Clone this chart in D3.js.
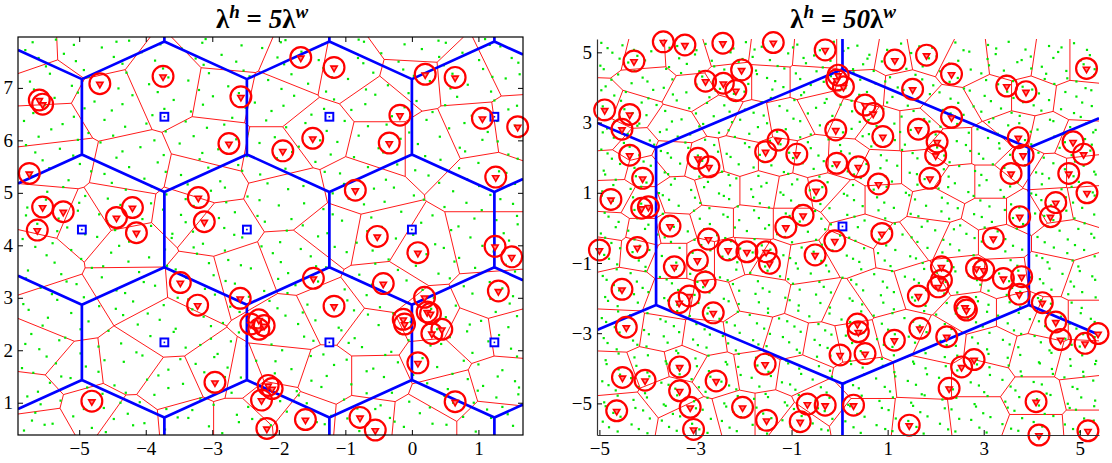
<!DOCTYPE html>
<html>
<head>
<meta charset="utf-8">
<script src="https://cdn.jsdelivr.net/npm/d3@7"></script>
<style>
  body { margin: 0; background: #fff; }
  svg text { font-family: "Liberation Serif", "Times New Roman", serif; }
</style>
</head>
<body>
<svg id="chart" width="1112" height="463"></svg>
<script>
// ---------- data ----------
const titleCoefs = ["5", "50"];

const xTicksLeft = [-5, -4, -3, -2, -1, 0, 1];
const xLabelsLeft = ["\u22125", "\u22124", "\u22123", "\u22122", "\u22121", "0", "1"];
const yTicksLeft = [1, 2, 3, 4, 5, 6, 7];
const yLabelsLeft = ["1", "2", "3", "4", "5", "6", "7"];
const xTicksRight = [-5, -3, -1, 1, 3, 5];
const xLabelsRight = ["\u22125", "\u22123", "\u22121", "1", "3", "5"];
const yTicksRight = [-5, -3, -1, 1, 3, 5];
const yLabelsRight = ["\u22125", "\u22123", "\u22121", "1", "3", "5"];

// macro base stations (hexagonal lattice)
const hexCentersLeft = [
  [-7.44, 0], [-4.96, 0], [-2.48, 0], [0, 0], [2.48, 0],
  [-6.2, 2.15], [-3.72, 2.15], [-1.24, 2.15], [1.24, 2.15], [3.72, 2.15],
  [-7.44, 4.3], [-4.96, 4.3], [-2.48, 4.3], [0, 4.3], [2.48, 4.3],
  [-6.2, 6.45], [-3.72, 6.45], [-1.24, 6.45], [1.24, 6.45], [3.72, 6.45],
  [-7.44, 8.6], [-4.96, 8.6], [-2.48, 8.6], [0, 8.6], [2.48, 8.6]
];
const hexCentersRight = [
  [-7.7, 0.04], [0.06, 0.04], [7.82, 0.04],
  [-11.58, 6.76], [-3.82, 6.76], [3.94, 6.76], [11.7, 6.76],
  [-11.58, -6.68], [-3.82, -6.68], [3.94, -6.68], [11.7, -6.68]
];

// WiFi access point sites (red tessellation)
const apSitesLeft = [
  [-5.77, 7.72], [-5.49, 7.08], [-4.89, 7.75], [-4.59, 6.7], [-5.44, 6.29], [-3.68, 7.02], [-2.78, 6.89],
  [-2.68, 7.78], [-2.93, 5.88], [-3.13, 5.24], [-2.98, 4.35], [-4.24, 5.43], [-5.34, 5.62], [-5.45, 4.62],
  [-4.39, 4.73], [-4.95, 4.45], [-3.38, 4.61], [-2.08, 6.77],
  [-1.73, 7.46], [-0.93, 7.34], [0.02, 7.88], [-0.03, 7.15], [0.83, 7.21], [1.48, 7.46], [0.93, 6.19],
  [1.58, 6.26], [-0.43, 6.77], [-0.43, 5.94], [-1.43, 6.13], [-2.08, 5.75], [-0.78, 5.11], [0.23, 5.94],
  [1.13, 5.24], [-1.83, 4.92],
  [-5.69, 3.78], [-4.2, 3.95], [-5.24, 2.7], [-4.19, 3.21], [-3.68, 2.45], [-3.18, 3.27], [-2.58, 3.4],
  [-2.9, 1.55], [-3.6, 1.3], [-3.38, 0.67], [-4.29, 1.69], [-5.04, 1.62], [-5.6, 2.0], [-5.74, 1.11],
  [-4.79, 0.92], [-5.64, 0.54], [-4.24, 0.61], [-2.58, 1.5], [-2.58, 0.67],
  [-0.5, 4.15], [0.12, 3.85], [1.13, 4.04], [-1.73, 3.66], [-0.38, 3.21], [-1.23, 2.7], [1.23, 2.96],
  [1.43, 2.38], [0.93, 2.32], [0.33, 1.81], [-0.55, 2.3], [0.23, 2.6], [-1.88, 2.45], [-1.28, 1.5],
  [-0.53, 1.5], [0.53, 1.18], [1.33, 1.37], [1.23, 0.61], [0.12, 0.61], [-0.68, 0.67], [-1.63, 0.73],
  [-1.98, 1.69], [-2.13, 1.05], [-1.15, 4.25]
];
const apSitesRight = [
  [-4.85, 5.02], [-4.08, 4.88], [-3.18, 4.92], [-2.35, 5.11], [-1.38, 5.02], [-0.54, 4.97], [-4.93, 3.52],
  [-4.36, 3.36], [-4.01, 4.21], [-3.04, 3.83], [-2.21, 4.21], [-1.45, 4.21], [-0.61, 4.21], [-4.82, 2.66],
  [-4.29, 2.31], [-3.39, 2.88], [-2.56, 3.26], [-1.8, 2.98], [-1.1, 3.07], [-0.34, 3.36], [-4.74, 1.78],
  [-4.08, 1.65], [-3.46, 2.03], [-2.83, 1.93], [-2.07, 2.03], [-1.31, 2.03], [-0.55, 1.95], [-4.7, 0.95],
  [-4.08, 0.7], [-3.39, 0.89], [-2.49, 1.08], [-1.66, 1.08], [-0.96, 0.99], [-0.27, 1.08], [-4.78, -0.06],
  [-4.08, -0.16], [-3.46, -0.06], [-2.62, 0.13], [-1.8, 0.13], [-0.96, 0.13],
  [0.42, 4.97], [1.12, 4.88], [1.81, 4.97], [2.57, 4.69], [3.61, 4.78], [4.45, 4.69], [5.14, 4.69],
  [0.49, 4.02], [1.39, 3.97], [2.3, 3.36], [3.2, 3.74], [3.96, 3.74], [5.0, 3.64], [0.22, 3.17],
  [0.91, 2.79], [1.6, 2.79], [2.37, 2.31], [3.13, 2.31], [3.68, 2.79], [4.31, 2.69], [4.93, 2.5],
  [0.08, 1.93], [0.84, 1.65], [1.74, 1.65], [2.5, 1.27], [3.13, 1.27], [3.75, 1.84], [4.38, 1.55],
  [5.07, 1.55], [0.15, 0.8], [0.91, 0.8], [2.02, 0.61], [3.13, 0.42], [3.82, 0.42], [4.45, 0.7],
  [5.14, 0.8], [0.49, -0.16], [1.88, -0.16],
  [-4.88, -0.54], [-4.22, -0.58], [-3.46, -0.82], [-2.9, -0.82], [-2.31, -0.82], [-1.86, -0.73],
  [-1.45, -0.92], [-0.69, -1.01], [-4.5, -1.77], [-3.46, -2.06], [-2.7, -2.16], [-1.66, -1.87],
  [-0.48, -2.06], [-4.57, -2.91], [-3.67, -3.01], [-2.83, -3.1], [-1.94, -3.01], [-1.1, -3.2],
  [-0.34, -3.3], [-4.64, -4.15], [-3.94, -3.96], [-3.25, -3.86], [-2.56, -4.15], [-1.73, -4.05],
  [-0.82, -4.15], [-4.5, -5.29], [-3.53, -4.72], [-3.04, -5.48], [-2.07, -5.29], [-1.45, -5.29],
  [-0.96, -5.57], [-0.34, -4.91],
  [0.22, -0.63], [1.19, -0.54], [2.44, -0.35], [3.34, -0.35], [4.65, -0.35], [0.84, -1.87], [1.67, -1.68],
  [2.57, -1.29], [3.41, -1.39], [4.38, -1.29], [5.14, -1.49], [0.08, -2.25], [2.78, -2.44], [3.75, -2.44],
  [4.38, -2.63], [5.14, -2.63], [0.29, -3.2], [1.26, -3.01], [2.09, -3.3], [3.13, -3.39], [4.1, -3.58],
  [5.07, -3.77], [0.49, -4.34], [1.81, -4.24], [2.85, -4.24], [4.1, -4.91], [5.21, -4.72], [0.49, -5.38],
  [1.74, -5.48], [2.85, -5.38], [4.1, -5.72], [5.21, -5.66]
];

// home base stations (circled triangles)
const homeLeft = [
  [-5.6, 6.77], [-5.55, 6.69], [-4.69, 7.08], [-3.74, 7.22], [-2.57, 6.83], [-2.75, 5.94], [-5.75, 5.37],
  [-5.55, 4.73], [-5.24, 4.64], [-5.63, 4.29], [-4.44, 4.53], [-4.2, 4.72], [-4.14, 4.24], [-3.21, 4.91],
  [-3.12, 4.45], [-1.67, 7.58], [-1.17, 7.39], [0.2, 7.26], [0.65, 7.2], [-0.18, 6.48], [1.06, 6.42],
  [1.59, 6.26], [-1.49, 6.04], [-1.94, 5.8], [-0.34, 5.95], [1.26, 5.3], [-0.85, 5.05], [-0.52, 4.17],
  [-3.48, 3.29], [-3.22, 2.86], [-2.58, 2.99], [-2.42, 2.5], [-2.3, 2.58], [-2.22, 2.47], [-2.3, 2.4],
  [-2.96, 1.39], [-4.81, 1.03], [-2.26, 1.05], [-2.16, 1.33], [-2.1, 1.27], [-2.18, 0.51],
  [0.09, 3.86], [1.25, 3.98], [1.5, 3.78], [-1.48, 3.37], [-0.43, 3.27], [1.3, 3.13], [-1.17, 2.84],
  [-0.13, 2.59], [-0.11, 2.5], [0.19, 3.01], [0.23, 2.73], [0.28, 2.7], [0.3, 2.32], [0.45, 2.4],
  [0.09, 1.76], [0.65, 1.02], [-0.78, 0.72], [-0.55, 0.48], [-1.6, 0.68]
];
const homeRight = [
  [-4.28, 4.75], [-3.67, 5.3], [-3.22, 5.21], [-2.43, 5.26], [-1.38, 5.28], [-0.3, 5.07], [-4.89, 3.36],
  [-4.37, 3.23], [-4.53, 2.81], [-2.79, 4.18], [-2.42, 4.12], [-2.16, 3.91], [-2.04, 4.5], [-4.37, 2.07],
  [-4.1, 1.41], [-4.76, 0.81], [-4.12, 0.56], [-3.98, 0.6], [-2.95, 1.98], [-2.72, 1.74], [-1.54, 2.17],
  [-1.28, 2.5], [-0.89, 2.1], [-0.49, 1.06], [-0.76, 0.36], [-1.12, 0.02], [-3.53, 0.05],
  [-0.06, 4.21], [0.08, 4.02], [-0.03, 4.35], [-0.08, 2.79], [-0.06, 1.84],
  [1.15, 4.78], [1.81, 4.92], [2.33, 4.38], [1.52, 3.95], [0.53, 3.5], [0.7, 3.26], [0.9, 2.6],
  [1.64, 2.81], [2.03, 2.45], [2.0, 2.07], [1.88, 1.41], [2.33, 3.15], [3.48, 4.04], [3.88, 3.88],
  [5.14, 4.54], [3.72, 2.57], [3.82, 2.07], [3.57, 1.55], [4.86, 2.45], [5.08, 2.1], [4.77, 1.55],
  [5.15, 1.0], [4.5, 0.72], [4.39, 0.32], [3.75, 0.32], [0.39, 1.74], [0.81, 1.25], [0.88, -0.16],
  [3.2, -0.3],
  [-2.73, -0.32], [-2.32, -0.63], [-1.93, -0.68], [-1.53, -0.68], [-1.46, -1.01], [-0.51, -0.77],
  [-0.1, -0.37], [-4.21, -0.56], [-5.0, -0.63], [-3.44, -1.11], [-2.96, -0.92], [-2.8, -1.54],
  [-3.13, -1.94], [-3.34, -2.13], [-2.63, -2.42], [-4.53, -1.75], [-4.44, -2.83], [-3.33, -3.96],
  [-4.52, -4.26], [-4.05, -4.34], [-3.33, -4.64], [-2.57, -4.36], [-3.11, -5.11], [-4.64, -5.21],
  [-3.04, -5.74], [-2.02, -5.11], [-1.55, -3.88], [-1.52, -5.48], [-0.82, -5.52], [-0.67, -5.02],
  [-0.3, -5.05],
  [2.12, -1.11], [2.12, -1.49], [2.05, -1.68], [2.85, -1.15], [3.0, -1.2], [3.41, -1.44], [3.79, -1.39],
  [3.74, -1.89], [1.64, -1.94], [2.61, -2.26], [2.64, -2.34], [4.22, -2.13], [4.5, -2.68], [4.6, -3.18],
  [5.11, -3.29], [5.38, -3.01], [1.67, -2.86], [2.23, -3.1], [1.14, -3.2], [0.37, -2.74], [0.39, -2.96],
  [0.53, -3.58], [0.01, -3.62], [2.54, -3.96], [2.8, -3.75], [2.28, -4.57], [0.29, -5.05], [1.45, -5.62],
  [4.09, -4.95], [4.15, -5.9], [5.17, -5.78]
];

// users (green points), "x,y" pairs
const usersLeftText = `
-5.83,0.47 -5.52,0.58 -4.81,0.52 -4.60,0.44 -4.02,0.61 -3.71,0.49 -3.05,0.55 -2.85,0.42 -2.12,0.57 -1.66,0.50 -1.43,0.63 -0.79,0.46 -0.12,0.54 0.31,0.60 0.96,0.45 1.52,0.56
-5.66,0.81 -5.09,0.74 -4.93,0.88 -4.27,0.79 -3.52,0.72 -3.30,0.86 -2.63,0.77 -2.40,0.69 -1.88,0.83 -1.21,0.75 -0.55,0.88 -0.33,0.71 0.12,0.80 0.77,0.73 1.13,0.87 1.44,0.78
-5.78,1.12 -5.28,1.04 -4.65,1.17 -4.09,1.01 -3.87,1.15 -3.18,1.08 -2.71,1.19 -1.98,1.03 -1.70,1.14 -1.02,1.06 -0.68,1.18 -0.04,1.02 0.49,1.13 0.62,1.00 1.27,1.10 1.60,1.16
-5.44,1.38 -5.13,1.47 -4.47,1.33 -3.98,1.44 -3.44,1.36 -2.57,1.48 -2.31,1.31 -1.51,1.42 -0.91,1.35 -0.42,1.49 0.23,1.37 0.84,1.45 1.07,1.32 1.55,1.41
-5.86,1.66 -5.35,1.75 -4.90,1.69 -4.33,1.78 -3.66,1.63 -3.25,1.74 -2.77,1.67 -2.05,1.79 -1.81,1.64 -1.17,1.72 -0.58,1.65 -0.21,1.77 0.38,1.68 1.00,1.73 1.36,1.62
-5.60,2.02 -4.98,1.94 -4.71,2.07 -4.14,1.96 -3.40,2.05 -2.92,1.93 -2.48,2.08 -1.95,2.00 -1.33,1.92 -0.75,2.06 -0.31,1.97 0.28,2.09 0.91,1.95 1.49,2.03
-5.72,2.31 -5.21,2.24 -4.56,2.37 -3.93,2.27 -3.58,2.35 -3.02,2.22 -2.60,2.34 -1.62,2.26 -1.06,2.38 -0.86,2.23 -0.18,2.32 0.57,2.25 0.83,2.36 1.31,2.29
-5.47,2.62 -4.86,2.55 -4.34,2.67 -3.79,2.58 -3.13,2.64 -2.84,2.52 -1.90,2.66 -1.45,2.57 -0.66,2.68 -0.02,2.54 0.51,2.63 1.04,2.56 1.58,2.65
-5.84,2.88 -5.33,2.96 -4.70,2.84 -4.19,2.93 -3.73,2.86 -3.36,2.97 -2.73,2.83 -2.14,2.94 -1.57,2.87 -0.97,2.95 -0.48,2.82 0.05,2.91 0.66,2.85 1.18,2.98 1.47,2.89
-5.58,3.19 -5.04,3.26 -4.44,3.14 -3.86,3.23 -3.11,3.17 -2.66,3.27 -2.22,3.13 -1.75,3.24 -1.01,3.16 -0.60,3.25 0.16,3.15 0.78,3.22 1.36,3.18
-5.77,3.52 -5.27,3.45 -4.81,3.57 -4.10,3.49 -3.55,3.54 -2.98,3.43 -2.42,3.56 -1.86,3.47 -1.29,3.58 -0.79,3.44 -0.21,3.53 0.40,3.46 0.95,3.57 1.55,3.50
-5.49,3.81 -4.97,3.74 -4.52,3.86 -3.95,3.77 -3.23,3.84 -2.76,3.72 -2.09,3.85 -1.52,3.79 -0.98,3.87 -0.35,3.73 0.22,3.83 0.71,3.76 1.23,3.88
-5.85,4.12 -5.40,4.04 -4.73,4.16 -4.25,4.07 -3.61,4.14 -3.14,4.03 -2.55,4.15 -1.98,4.06 -1.41,4.17 -0.83,4.05 -0.24,4.13 0.35,4.02 0.88,4.15 1.46,4.09
-5.63,4.41 -5.18,4.34 -4.58,4.46 -3.92,4.37 -3.40,4.44 -2.82,4.33 -2.21,4.45 -1.64,4.38 -1.05,4.47 -0.45,4.35 0.14,4.43 0.70,4.36 1.27,4.48 1.59,4.40
-5.78,4.72 -5.02,4.66 -4.38,4.77 -3.74,4.68 -3.28,4.75 -2.66,4.63 -2.00,4.76 -1.33,4.69 -0.72,4.78 -0.16,4.64 0.49,4.73 1.05,4.67 1.52,4.79
-5.48,5.02 -4.91,4.94 -4.30,5.06 -3.69,4.97 -3.02,5.04 -2.47,4.93 -1.86,5.07 -1.19,4.99 -0.57,5.08 0.03,4.95 0.62,5.03 1.18,4.96
-5.71,5.31 -5.16,5.24 -4.62,5.36 -4.02,5.27 -3.47,5.34 -2.88,5.22 -2.28,5.35 -1.69,5.28 -1.08,5.37 -0.39,5.25 0.25,5.33 0.83,5.26 1.42,5.38
-5.55,5.62 -4.99,5.55 -4.44,5.67 -3.82,5.58 -3.19,5.64 -2.61,5.53 -2.03,5.66 -1.45,5.59 -0.87,5.68 -0.22,5.54 0.43,5.63 1.00,5.57 1.59,5.65
-5.80,5.91 -5.29,5.84 -4.68,5.96 -4.08,5.87 -3.49,5.94 -2.91,5.83 -2.29,5.95 -1.70,5.88 -1.12,5.97 -0.50,5.85 0.09,5.93 0.72,5.86 1.29,5.98
-5.42,6.21 -4.86,6.14 -4.31,6.26 -3.70,6.17 -3.08,6.24 -2.47,6.13 -1.89,6.25 -1.28,6.18 -0.66,6.27 -0.04,6.15 0.56,6.23 1.14,6.16 1.55,6.28
-5.69,6.52 -5.08,6.45 -4.51,6.57 -3.90,6.48 -3.32,6.55 -2.70,6.43 -2.11,6.56 -1.51,6.49 -0.91,6.58 -0.30,6.46 0.31,6.54 0.90,6.47 1.45,6.59
-5.37,6.81 -4.77,6.74 -4.20,6.86 -3.58,6.77 -2.99,6.84 -2.36,6.72 -1.77,6.85 -1.17,6.78 -0.55,6.87 0.07,6.75 0.68,6.83 1.24,6.76
-5.74,7.12 -5.11,7.04 -4.55,7.16 -3.95,7.07 -3.36,7.14 -2.76,7.03 -2.16,7.15 -1.56,7.08 -0.96,7.17 -0.36,7.05 0.27,7.13 0.84,7.06 1.41,7.18
-5.50,7.41 -4.93,7.34 -4.35,7.46 -3.74,7.37 -3.13,7.44 -2.53,7.33 -1.92,7.45 -1.33,7.38 -0.73,7.47 -0.13,7.35 0.48,7.43 1.07,7.36 1.60,7.48
-5.81,7.72 -5.23,7.65 -4.66,7.77 -4.06,7.68 -3.46,7.75 -2.86,7.63 -2.25,7.76 -1.66,7.69 -1.06,7.78 -0.46,7.66 0.15,7.74 0.76,7.67 1.33,7.79
-5.35,7.92 -4.25,7.90 -3.10,7.93 -1.90,7.91 -0.80,7.92 0.40,7.90 1.10,7.93
-5.71,0.66 -5.40,0.60 -4.48,0.69 -4.19,0.57 -3.36,0.71 -2.60,0.63 -2.27,0.68 -1.31,0.59 -0.97,0.70 -0.26,0.64 0.52,0.58 1.19,0.71
-5.58,0.97 -4.63,0.90 -4.38,1.00 -3.69,0.88 -2.98,0.96 -2.46,0.92 -1.58,0.99 -0.82,0.89 -0.47,0.95 0.27,0.91 0.93,1.00 1.36,0.92
-5.62,1.21 -4.88,1.29 -4.30,1.19 -3.66,1.28 -3.01,1.20 -2.15,1.27 -1.73,1.22 -1.36,1.30 -0.30,1.19 0.54,1.26 0.99,1.23 1.61,1.29
-5.69,1.57 -5.27,1.50 -4.71,1.59 -3.81,1.52 -3.12,1.58 -2.81,1.49 -2.06,1.56 -1.28,1.51 -0.68,1.60 0.02,1.53 0.61,1.55 1.29,1.50
-5.49,1.88 -4.62,1.81 -4.05,1.90 -3.48,1.83 -2.97,1.87 -2.34,1.80 -1.52,1.89 -0.98,1.82 -0.40,1.91 0.16,1.85 0.78,1.80 1.58,1.88
-5.81,2.12 -5.30,2.19 -4.37,2.13 -3.76,2.20 -3.18,2.10 -2.72,2.17 -2.11,2.11 -1.48,2.18 -0.95,2.14 -0.05,2.19 0.44,2.12 1.15,2.17
-5.55,2.47 -4.98,2.40 -4.12,2.49 -3.55,2.41 -3.02,2.46 -2.35,2.42 -1.71,2.50 -1.10,2.43 -0.50,2.48 0.38,2.40 0.87,2.49 1.45,2.44
-5.76,2.77 -5.12,2.71 -4.45,2.79 -3.97,2.70 -3.30,2.78 -2.59,2.73 -2.02,2.80 -1.64,2.72 -0.87,2.76 -0.28,2.70 0.29,2.79 1.26,2.73
-5.41,3.07 -4.93,3.01 -4.31,3.09 -3.52,3.00 -2.96,3.06 -2.45,3.02 -1.87,3.09 -1.24,3.01 -0.68,3.05 0.33,3.00 0.91,3.08 1.52,3.03
-5.80,3.37 -5.19,3.31 -4.66,3.39 -4.03,3.30 -3.39,3.38 -2.80,3.32 -2.01,3.36 -1.41,3.31 -0.90,3.39 -0.08,3.33 0.57,3.37 1.17,3.30
-5.37,3.67 -4.64,3.60 -4.26,3.69 -3.68,3.61 -3.05,3.66 -2.57,3.62 -1.97,3.68 -1.44,3.60 -0.55,3.65 0.06,3.61 0.64,3.69 1.41,3.63
-5.66,3.97 -5.12,3.91 -4.40,3.99 -3.71,3.92 -3.28,3.96 -2.81,3.90 -2.26,3.98 -1.67,3.93 -1.16,3.97 -0.59,3.90 0.48,3.95 1.06,3.99
-5.33,4.27 -4.91,4.21 -4.46,4.29 -3.60,4.22 -3.29,4.26 -2.67,4.20 -1.88,4.28 -1.27,4.23 -0.67,4.27 0.02,4.20 0.59,4.29 1.38,4.23
-5.80,4.57 -5.31,4.51 -4.70,4.59 -4.05,4.50 -3.47,4.58 -2.90,4.52 -2.32,4.56 -1.81,4.50 -1.19,4.59 -0.61,4.53 0.31,4.57 0.94,4.51 1.58,4.56
-5.50,4.87 -5.00,4.81 -4.57,4.89 -3.92,4.80 -3.40,4.88 -2.79,4.82 -2.29,4.86 -1.62,4.80 -0.95,4.89 -0.41,4.83 0.18,4.87 0.82,4.81 1.33,4.88
-5.77,5.17 -5.24,5.11 -4.51,5.19 -3.91,5.12 -3.37,5.16 -2.81,5.10 -2.17,5.18 -1.63,5.13 -1.02,5.17 -0.27,5.10 0.41,5.19 1.01,5.13 1.55,5.17
-5.45,5.47 -4.82,5.41 -4.25,5.49 -3.70,5.40 -3.06,5.48 -2.55,5.42 -1.90,5.46 -1.31,5.40 -0.66,5.49 0.05,5.43 0.71,5.47 1.31,5.41
-5.66,5.77 -5.09,5.71 -4.35,5.79 -3.73,5.72 -3.15,5.76 -2.48,5.70 -1.80,5.78 -1.22,5.73 -0.43,5.77 0.20,5.70 0.80,5.79 1.45,5.73
-5.61,6.07 -5.02,6.01 -4.49,6.09 -3.87,6.00 -3.28,6.08 -2.64,6.02 -2.06,6.06 -1.38,6.00 -0.80,6.09 -0.17,6.03 0.42,6.07 1.06,6.01 1.62,6.06
-5.83,6.37 -5.25,6.31 -4.62,6.39 -3.99,6.32 -3.40,6.36 -2.82,6.30 -2.19,6.38 -1.60,6.33 -1.01,6.37 -0.38,6.30 0.22,6.39 0.79,6.33 1.28,6.37
-5.52,6.67 -4.92,6.61 -4.35,6.69 -3.72,6.60 -3.14,6.68 -2.50,6.62 -1.93,6.66 -1.32,6.60 -0.70,6.69 -0.11,6.63 0.50,6.67 1.10,6.61 1.58,6.66
-5.68,6.97 -5.02,6.91 -4.41,6.99 -3.82,6.92 -3.20,6.96 -2.60,6.90 -1.96,6.98 -1.29,6.93 -0.69,6.97 -0.05,6.90 0.58,6.99 1.19,6.93
-5.44,7.27 -4.86,7.21 -4.29,7.29 -3.66,7.20 -3.05,7.28 -2.44,7.22 -1.81,7.26 -1.20,7.20 -0.58,7.29 0.03,7.23 0.61,7.27 1.21,7.21 1.62,7.26
-5.61,7.57 -5.05,7.51 -4.48,7.59 -3.86,7.52 -3.25,7.56 -2.64,7.50 -2.02,7.58 -1.40,7.53 -0.81,7.57 -0.20,7.50 0.41,7.59 1.01,7.53 1.50,7.57
-5.70,7.87 -5.08,7.82 -4.44,7.88 -3.78,7.83 -3.15,7.86 -2.56,7.81 -1.97,7.87 -1.35,7.82 -0.72,7.88 -0.11,7.83 0.51,7.86 1.17,7.82
`;
const usersRightText = `
-4.96,5.27 -4.52,5.20 -3.71,5.30 -3.38,5.18 -2.79,5.24 -1.95,5.29 -1.62,5.16 -0.88,5.22 -0.12,5.30 0.37,5.19 1.28,5.25 1.66,5.17 2.41,5.28 3.09,5.21 3.52,5.30 4.36,5.18 4.88,5.26
-4.73,4.99 -4.21,4.90 -3.92,5.03 -3.01,4.94 -2.27,5.00 -1.81,4.87 -1.07,4.97 -0.53,4.91 0.08,5.04 0.62,4.93 1.49,4.98 2.02,4.89 2.70,5.02 3.25,4.95 3.98,4.88 4.55,5.01 5.21,4.92
-4.98,4.62 -4.40,4.71 -3.55,4.58 -3.18,4.67 -2.61,4.60 -2.10,4.73 -1.29,4.61 -0.70,4.69 -0.35,4.57 0.49,4.66 0.88,4.74 1.73,4.60 2.28,4.68 3.11,4.63 3.70,4.72 4.21,4.59 5.08,4.66
-4.61,4.37 -4.10,4.28 -3.30,4.41 -2.86,4.31 -1.72,4.38 -1.51,4.27 -0.91,4.40 -0.18,4.32 0.29,4.43 1.05,4.29 1.58,4.36 2.46,4.27 2.95,4.40 3.47,4.33 4.30,4.39 4.74,4.26 5.30,4.35
-4.87,4.03 -4.33,4.12 -3.66,3.99 -2.98,4.08 -2.49,3.96 -1.90,4.10 -1.17,4.01 -0.60,4.07 0.12,3.98 0.75,4.11 1.21,4.00 1.95,4.06 2.59,3.97 3.30,4.09 3.81,4.02 4.47,4.10 5.12,3.98
-4.69,3.77 -3.98,3.69 -3.47,3.80 -2.71,3.72 -2.20,3.82 -1.43,3.70 -0.80,3.78 -0.27,3.67 0.41,3.79 1.10,3.73 1.88,3.81 2.31,3.68 3.02,3.76 3.62,3.70 4.15,3.83 4.93,3.74
-4.93,3.46 -4.48,3.38 -3.81,3.50 -3.13,3.41 -2.40,3.49 -1.97,3.37 -1.25,3.47 -0.49,3.42 0.02,3.51 0.91,3.39 1.42,3.48 2.15,3.36 2.79,3.46 3.36,3.40 4.04,3.49 4.61,3.38 5.25,3.47
-4.58,3.14 -4.02,3.21 -3.29,3.09 -2.62,3.18 -2.07,3.08 -1.58,3.20 -0.96,3.11 -0.15,3.19 0.60,3.07 1.29,3.17 1.76,3.10 2.58,3.22 3.20,3.12 3.75,3.19 4.38,3.08 5.02,3.16
-4.84,2.83 -4.21,2.91 -3.60,2.80 -2.92,2.89 -2.31,2.78 -1.70,2.87 -1.12,2.81 -0.41,2.92 0.25,2.82 0.77,2.90 1.48,2.79 2.10,2.88 2.87,2.81 3.51,2.92 4.12,2.80 4.80,2.87 5.33,2.79
-4.70,2.57 -3.95,2.49 -3.37,2.60 -2.80,2.51 -2.18,2.59 -1.45,2.48 -0.82,2.58 -0.23,2.52 0.48,2.61 1.15,2.50 1.81,2.57 2.44,2.47 3.09,2.56 3.86,2.50 4.47,2.60 5.11,2.53
-4.96,2.23 -4.37,2.31 -3.72,2.19 -3.15,2.28 -2.53,2.17 -1.88,2.30 -1.30,2.21 -0.60,2.27 0.03,2.18 0.66,2.32 1.30,2.22 2.03,2.29 2.72,2.19 3.33,2.26 3.93,2.16 4.58,2.28 5.22,2.20
-4.74,1.97 -4.08,1.89 -3.51,2.00 -2.86,1.91 -2.27,2.02 -1.60,1.88 -0.97,1.99 -0.33,1.90 0.34,2.01 0.98,1.92 1.62,1.98 2.29,1.87 2.99,1.97 3.64,1.91 4.25,2.00 4.90,1.89
-4.91,1.63 -4.27,1.71 -3.64,1.58 -3.02,1.69 -2.45,1.60 -1.79,1.72 -1.16,1.59 -0.54,1.68 0.17,1.61 0.85,1.70 1.46,1.57 2.17,1.67 2.82,1.62 3.43,1.71 4.09,1.58 4.69,1.67 5.30,1.60
-4.66,1.37 -4.02,1.29 -3.43,1.40 -2.74,1.31 -2.15,1.41 -1.52,1.28 -0.88,1.38 -0.25,1.30 0.44,1.42 1.09,1.32 1.77,1.39 2.40,1.27 3.06,1.36 3.71,1.30 4.36,1.41 4.98,1.31
-4.94,1.04 -4.35,1.11 -3.76,0.99 -3.09,1.08 -2.51,0.98 -1.84,1.10 -1.23,1.01 -0.62,1.07 0.09,0.97 0.71,1.09 1.38,1.00 2.06,1.12 2.68,1.02 3.35,1.08 3.99,0.98 4.62,1.10 5.27,1.01
-4.72,0.77 -4.13,0.69 -3.55,0.80 -2.90,0.71 -2.30,0.82 -1.66,0.70 -1.01,0.78 -0.40,0.68 0.30,0.79 0.93,0.72 1.57,0.81 2.25,0.70 2.93,0.78 3.57,0.67 4.20,0.79 4.86,0.72
-4.89,0.43 -4.27,0.51 -3.68,0.40 -3.03,0.49 -2.42,0.38 -1.78,0.50 -1.12,0.41 -0.51,0.48 0.16,0.37 0.81,0.50 1.48,0.40 2.12,0.47 2.80,0.39 3.44,0.51 4.07,0.41 4.72,0.49 5.30,0.38
-4.60,0.17 -3.98,0.09 -3.36,0.20 -2.70,0.11 -2.09,0.22 -1.47,0.08 -0.83,0.18 -0.18,0.10 0.52,0.21 1.15,0.12 1.83,0.19 2.51,0.07 3.17,0.17 3.82,0.11 4.45,0.22 5.10,0.13
-4.97,-0.16 -4.40,-0.08 -3.79,-0.19 -3.16,-0.10 -2.55,-0.21 -1.93,-0.09 -1.30,-0.18 -0.66,-0.11 0.01,-0.22 0.67,-0.09 1.31,-0.19 1.99,-0.07 2.64,-0.17 3.29,-0.10 3.95,-0.20 4.58,-0.08 5.24,-0.17
-4.75,-0.43 -4.16,-0.51 -3.51,-0.40 -2.88,-0.49 -2.26,-0.38 -1.62,-0.50 -0.99,-0.41 -0.37,-0.48 0.33,-0.37 0.97,-0.50 1.62,-0.40 2.30,-0.47 2.96,-0.39 3.61,-0.51 4.27,-0.41 4.90,-0.49
-4.90,-0.77 -4.31,-0.69 -3.70,-0.80 -3.06,-0.71 -2.44,-0.82 -1.81,-0.70 -1.17,-0.78 -0.54,-0.68 0.15,-0.79 0.80,-0.72 1.47,-0.81 2.14,-0.70 2.79,-0.78 3.45,-0.67 4.10,-0.79 4.74,-0.72 5.31,-0.81
-4.63,-1.04 -4.04,-1.11 -3.40,-0.99 -2.77,-1.08 -2.13,-0.98 -1.55,-1.10 -0.91,-1.01 -0.28,-1.07 0.41,-0.97 1.06,-1.09 1.73,-1.00 2.37,-1.12 3.04,-1.02 3.70,-1.08 4.33,-0.98 4.97,-1.10
-4.93,-1.37 -4.35,-1.29 -3.74,-1.40 -3.11,-1.31 -2.49,-1.41 -1.86,-1.28 -1.24,-1.38 -0.60,-1.30 0.06,-1.42 0.72,-1.32 1.36,-1.39 2.02,-1.27 2.69,-1.36 3.32,-1.30 3.98,-1.41 4.64,-1.31 5.26,-1.38
-4.70,-1.63 -4.10,-1.71 -3.49,-1.58 -2.84,-1.69 -2.22,-1.60 -1.60,-1.72 -0.97,-1.59 -0.33,-1.68 0.35,-1.61 0.99,-1.70 1.65,-1.57 2.28,-1.67 2.93,-1.62 3.59,-1.71 4.24,-1.58 4.88,-1.67
-4.88,-1.97 -4.28,-1.89 -3.65,-2.00 -3.02,-1.91 -2.41,-2.02 -1.75,-1.88 -1.13,-1.99 -0.49,-1.90 0.21,-2.01 0.86,-1.92 1.51,-1.98 2.18,-1.87 2.84,-1.97 3.48,-1.91 4.13,-2.00 4.76,-1.89 5.33,-1.98
-4.62,-2.23 -4.01,-2.31 -3.38,-2.19 -2.73,-2.28 -2.10,-2.17 -1.49,-2.30 -0.85,-2.21 -0.20,-2.27 0.47,-2.18 1.13,-2.32 1.79,-2.22 2.45,-2.29 3.10,-2.19 3.76,-2.26 4.40,-2.16 5.04,-2.28
-4.95,-2.57 -4.36,-2.49 -3.73,-2.60 -3.12,-2.51 -2.50,-2.59 -1.87,-2.48 -1.26,-2.58 -0.63,-2.52 0.04,-2.61 0.71,-2.50 1.35,-2.57 2.01,-2.47 2.67,-2.56 3.30,-2.50 3.96,-2.60 4.61,-2.53 5.23,-2.59
-4.68,-2.83 -4.07,-2.91 -3.45,-2.80 -2.81,-2.89 -2.18,-2.78 -1.57,-2.87 -0.94,-2.81 -0.30,-2.92 0.37,-2.82 1.01,-2.90 1.67,-2.79 2.33,-2.88 2.98,-2.81 3.63,-2.92 4.28,-2.80 4.93,-2.87
-4.91,-3.14 -4.30,-3.21 -3.66,-3.09 -3.05,-3.18 -2.43,-3.08 -1.80,-3.20 -1.18,-3.11 -0.52,-3.19 0.13,-3.07 0.78,-3.17 1.44,-3.10 2.10,-3.22 2.76,-3.12 3.40,-3.19 4.06,-3.08 4.70,-3.16 5.31,-3.11
-4.64,-3.46 -4.02,-3.38 -3.40,-3.50 -2.77,-3.41 -2.16,-3.49 -1.52,-3.37 -0.89,-3.47 -0.25,-3.42 0.44,-3.51 1.10,-3.39 1.76,-3.48 2.42,-3.36 3.07,-3.46 3.72,-3.40 4.37,-3.49 5.00,-3.38
-4.87,-3.77 -4.27,-3.69 -3.62,-3.80 -3.00,-3.72 -2.37,-3.82 -1.74,-3.70 -1.11,-3.78 -0.47,-3.67 0.22,-3.79 0.88,-3.73 1.53,-3.81 2.19,-3.68 2.86,-3.76 3.50,-3.70 4.15,-3.83 4.80,-3.74 5.34,-3.79
-4.60,-4.03 -4.00,-4.12 -3.37,-3.99 -2.72,-4.08 -2.11,-3.96 -1.48,-4.10 -0.84,-4.01 -0.20,-4.07 0.48,-3.98 1.14,-4.11 1.79,-4.00 2.45,-4.06 3.12,-3.97 3.77,-4.09 4.42,-4.02 5.07,-4.10
-4.94,-4.37 -4.34,-4.28 -3.71,-4.41 -3.08,-4.31 -2.46,-4.38 -1.83,-4.27 -1.20,-4.40 -0.56,-4.32 0.10,-4.43 0.76,-4.29 1.42,-4.36 2.07,-4.27 2.73,-4.40 3.39,-4.33 4.04,-4.39 4.68,-4.26 5.28,-4.35
-4.66,-4.63 -4.05,-4.71 -3.42,-4.58 -2.79,-4.67 -2.15,-4.60 -1.54,-4.73 -0.92,-4.61 -0.27,-4.69 0.40,-4.57 1.05,-4.66 1.71,-4.74 2.36,-4.60 3.01,-4.68 3.66,-4.63 4.31,-4.72 4.95,-4.59
-4.90,-4.97 -4.29,-4.90 -3.66,-5.03 -3.03,-4.94 -2.40,-5.00 -1.78,-4.87 -1.14,-4.97 -0.50,-4.91 0.18,-5.04 0.83,-4.93 1.49,-4.98 2.14,-4.89 2.81,-5.02 3.45,-4.95 4.11,-4.88 4.75,-5.01 5.32,-4.92
-4.71,-5.27 -4.09,-5.20 -3.47,-5.30 -2.85,-5.18 -2.21,-5.24 -1.59,-5.29 -0.95,-5.16 -0.31,-5.22 0.37,-5.30 1.02,-5.19 1.68,-5.25 2.33,-5.17 2.99,-5.28 3.64,-5.21 4.27,-5.30 4.92,-5.18
-4.93,-5.52 -4.33,-5.60 -3.70,-5.49 -3.07,-5.58 -2.45,-5.50 -1.81,-5.61 -1.19,-5.48 -0.56,-5.57 0.12,-5.51 0.77,-5.62 1.43,-5.50 2.09,-5.58 2.74,-5.47 3.39,-5.59 4.04,-5.53 4.69,-5.60 5.29,-5.49
-4.62,-5.80 -4.00,-5.85 -3.39,-5.78 -2.75,-5.84 -2.14,-5.79 -1.51,-5.86 -0.88,-5.81 -0.24,-5.77 0.44,-5.84 1.10,-5.79 1.75,-5.86 2.41,-5.80 3.06,-5.83 3.72,-5.78 4.36,-5.85 5.00,-5.81
-4.83,5.12 -4.28,5.07 -3.54,5.13 -2.98,5.06 -2.21,5.11 -1.77,5.08 -0.97,5.14 -0.41,5.06 0.18,5.12 0.99,5.07 1.93,5.13 2.58,5.06 3.26,5.11 3.87,5.08 4.62,5.14 5.15,5.07
-4.58,4.82 -4.05,4.77 -3.34,4.83 -2.66,4.76 -2.02,4.81 -1.45,4.78 -0.75,4.84 -0.19,4.76 0.58,4.82 1.12,4.77 1.86,4.83 2.47,4.76 3.08,4.81 3.79,4.78 4.45,4.84 5.02,4.77
-4.91,4.52 -4.27,4.47 -3.61,4.53 -2.92,4.46 -2.40,4.51 -1.74,4.48 -1.15,4.54 -0.48,4.46 0.28,4.52 0.71,4.47 1.39,4.53 2.09,4.46 2.73,4.51 3.42,4.48 3.99,4.54 4.72,4.47 5.31,4.52
-4.75,4.22 -4.00,4.17 -3.48,4.23 -2.64,4.16 -2.07,4.21 -1.34,4.18 -0.82,4.24 -0.33,4.16 0.43,4.22 0.95,4.17 1.72,4.23 2.29,4.16 3.05,4.21 3.61,4.18 4.27,4.24 4.93,4.17
-4.96,3.92 -4.45,3.87 -3.88,3.93 -3.19,3.86 -2.58,3.91 -1.98,3.88 -1.40,3.94 -0.74,3.86 0.01,3.92 0.57,3.87 1.33,3.93 2.08,3.86 2.71,3.91 3.49,3.88 4.01,3.94 4.70,3.87 5.24,3.92
-4.55,3.62 -4.12,3.57 -3.39,3.63 -2.76,3.56 -2.16,3.61 -1.62,3.58 -0.94,3.64 -0.31,3.56 0.25,3.62 0.99,3.57 1.63,3.63 2.47,3.56 3.15,3.61 3.82,3.58 4.36,3.64 5.05,3.57
-4.88,3.32 -4.31,3.27 -3.63,3.33 -2.99,3.26 -2.29,3.31 -1.79,3.28 -1.09,3.34 -0.66,3.26 0.26,3.32 0.74,3.27 1.54,3.33 2.31,3.26 2.95,3.31 3.58,3.28 4.20,3.34 4.88,3.27
-4.69,3.02 -4.17,2.97 -3.49,3.03 -2.84,2.96 -2.24,3.01 -1.51,2.98 -0.82,3.04 -0.25,2.96 0.42,3.02 1.14,2.97 1.87,3.03 2.45,2.96 3.11,3.01 3.74,2.98 4.45,3.04 5.13,2.97
-4.93,2.72 -4.41,2.67 -3.74,2.73 -3.11,2.66 -2.51,2.71 -1.88,2.68 -1.30,2.74 -0.60,2.66 0.07,2.72 0.61,2.67 1.26,2.73 2.00,2.66 2.69,2.71 3.29,2.68 3.98,2.74 4.66,2.67 5.28,2.72
-4.49,2.42 -3.86,2.37 -3.21,2.43 -2.61,2.36 -1.97,2.41 -1.23,2.38 -0.66,2.44 0.01,2.36 0.73,2.42 1.36,2.37 1.99,2.43 2.63,2.36 3.32,2.41 3.99,2.38 4.69,2.44 5.25,2.37
-4.83,2.12 -4.17,2.07 -3.58,2.13 -2.95,2.06 -2.35,2.11 -1.66,2.08 -1.05,2.14 -0.44,2.06 0.21,2.12 0.86,2.07 1.52,2.13 2.18,2.06 2.90,2.11 3.55,2.08 4.14,2.14 4.83,2.07
-4.57,1.82 -3.93,1.77 -3.32,1.83 -2.68,1.76 -2.10,1.81 -1.42,1.78 -0.77,1.84 -0.15,1.76 0.56,1.82 1.20,1.77 1.87,1.83 2.49,1.76 3.19,1.81 3.86,1.78 4.45,1.84 5.08,1.77
-4.88,1.52 -4.24,1.47 -3.57,1.53 -2.92,1.46 -2.31,1.51 -1.69,1.48 -1.07,1.54 -0.42,1.46 0.30,1.52 0.95,1.47 1.61,1.53 2.27,1.46 2.95,1.51 3.58,1.48 4.22,1.54 4.87,1.47 5.33,1.52
-4.71,1.22 -4.13,1.17 -3.51,1.23 -2.82,1.16 -2.28,1.21 -1.63,1.18 -0.99,1.24 -0.36,1.16 0.28,1.22 0.98,1.17 1.62,1.23 2.26,1.16 2.91,1.21 3.55,1.18 4.21,1.24 4.83,1.17
-4.95,0.92 -4.30,0.87 -3.68,0.93 -3.01,0.86 -2.41,0.91 -1.80,0.88 -1.17,0.94 -0.53,0.86 0.16,0.92 0.78,0.87 1.45,0.93 2.13,0.86 2.79,0.91 3.42,0.88 4.09,0.94 4.71,0.87 5.31,0.92
-4.60,0.62 -4.00,0.57 -3.35,0.63 -2.71,0.56 -2.12,0.61 -1.47,0.58 -0.84,0.64 -0.21,0.56 0.48,0.62 1.13,0.57 1.80,0.63 2.46,0.56 3.12,0.61 3.74,0.58 4.40,0.64 5.05,0.57
-4.81,0.32 -4.21,0.27 -3.57,0.33 -2.91,0.26 -2.33,0.31 -1.68,0.28 -1.04,0.34 -0.38,0.26 0.31,0.32 0.95,0.27 1.64,0.33 2.28,0.26 2.96,0.31 3.61,0.28 4.26,0.34 4.89,0.27
-4.66,0.02 -4.05,-0.03 -3.45,0.03 -2.82,-0.04 -2.18,0.01 -1.55,-0.02 -0.90,0.04 -0.30,-0.04 0.38,0.02 1.05,-0.03 1.71,0.03 2.38,-0.04 3.02,0.01 3.69,-0.02 4.33,0.04 4.97,-0.03
-4.88,-0.28 -4.27,-0.33 -3.64,-0.27 -3.02,-0.34 -2.38,-0.29 -1.77,-0.32 -1.14,-0.26 -0.49,-0.34 0.20,-0.28 0.82,-0.33 1.50,-0.27 2.16,-0.34 2.81,-0.29 3.45,-0.32 4.12,-0.26 4.75,-0.33 5.30,-0.28
-4.57,-0.58 -3.96,-0.63 -3.33,-0.57 -2.69,-0.64 -2.07,-0.59 -1.44,-0.62 -0.79,-0.56 -0.15,-0.64 0.51,-0.58 1.16,-0.63 1.83,-0.57 2.49,-0.64 3.14,-0.59 3.80,-0.62 4.46,-0.56 5.09,-0.63
-4.80,-0.88 -4.18,-0.93 -3.55,-0.87 -2.93,-0.94 -2.29,-0.89 -1.66,-0.92 -1.03,-0.86 -0.38,-0.94 0.28,-0.88 0.94,-0.93 1.59,-0.87 2.25,-0.94 2.90,-0.89 3.56,-0.92 4.22,-0.86 4.85,-0.93
-4.64,-1.18 -4.04,-1.23 -3.41,-1.17 -2.79,-1.24 -2.15,-1.19 -1.50,-1.22 -0.87,-1.16 -0.22,-1.24 0.45,-1.18 1.09,-1.23 1.76,-1.17 2.41,-1.24 3.06,-1.19 3.72,-1.22 4.37,-1.16 5.00,-1.23
-4.85,-1.48 -4.22,-1.53 -3.60,-1.47 -2.96,-1.54 -2.33,-1.49 -1.70,-1.52 -1.07,-1.46 -0.42,-1.54 0.24,-1.48 0.90,-1.53 1.55,-1.47 2.21,-1.54 2.86,-1.49 3.53,-1.52 4.17,-1.46 4.81,-1.53 5.32,-1.48
-4.59,-1.78 -3.98,-1.83 -3.36,-1.77 -2.71,-1.84 -2.09,-1.79 -1.46,-1.82 -0.83,-1.76 -0.18,-1.84 0.49,-1.78 1.13,-1.83 1.80,-1.77 2.45,-1.84 3.10,-1.79 3.76,-1.82 4.41,-1.76 5.05,-1.83
-4.82,-2.08 -4.20,-2.13 -3.57,-2.07 -2.94,-2.14 -2.31,-2.09 -1.68,-2.12 -1.04,-2.06 -0.40,-2.14 0.27,-2.08 0.91,-2.13 1.57,-2.07 2.23,-2.14 2.88,-2.09 3.54,-2.12 4.19,-2.06 4.83,-2.13
-4.61,-2.38 -4.00,-2.43 -3.38,-2.37 -2.75,-2.44 -2.12,-2.39 -1.49,-2.42 -0.86,-2.36 -0.21,-2.44 0.45,-2.38 1.10,-2.43 1.76,-2.37 2.42,-2.44 3.07,-2.39 3.73,-2.42 4.38,-2.36 5.02,-2.43
-4.86,-2.68 -4.24,-2.73 -3.62,-2.67 -2.98,-2.74 -2.35,-2.69 -1.72,-2.72 -1.09,-2.66 -0.44,-2.74 0.22,-2.68 0.88,-2.73 1.53,-2.67 2.19,-2.74 2.84,-2.69 3.50,-2.72 4.15,-2.66 4.79,-2.73 5.31,-2.68
-4.58,-2.98 -3.97,-3.03 -3.34,-2.97 -2.70,-3.04 -2.08,-2.99 -1.45,-3.02 -0.81,-2.96 -0.17,-3.04 0.50,-2.98 1.15,-3.03 1.81,-2.97 2.47,-3.04 3.12,-2.99 3.78,-3.02 4.43,-2.96 5.07,-3.03
-4.83,-3.28 -4.21,-3.33 -3.58,-3.27 -2.95,-3.34 -2.32,-3.29 -1.69,-3.32 -1.05,-3.26 -0.41,-3.34 0.26,-3.28 0.92,-3.33 1.57,-3.27 2.23,-3.34 2.88,-3.29 3.54,-3.32 4.19,-3.26 4.83,-3.33
-4.60,-3.58 -3.99,-3.63 -3.36,-3.57 -2.73,-3.64 -2.10,-3.59 -1.47,-3.62 -0.83,-3.56 -0.19,-3.64 0.48,-3.58 1.13,-3.63 1.79,-3.57 2.45,-3.64 3.10,-3.59 3.76,-3.62 4.41,-3.56 5.05,-3.63
-4.85,-3.88 -4.23,-3.93 -3.60,-3.87 -2.97,-3.94 -2.34,-3.89 -1.71,-3.92 -1.07,-3.86 -0.43,-3.94 0.24,-3.88 0.90,-3.93 1.55,-3.87 2.21,-3.94 2.86,-3.89 3.52,-3.92 4.17,-3.86 4.81,-3.93 5.32,-3.88
-4.57,-4.18 -3.96,-4.23 -3.33,-4.17 -2.69,-4.24 -2.06,-4.19 -1.43,-4.22 -0.80,-4.16 -0.16,-4.24 0.51,-4.18 1.16,-4.23 1.82,-4.17 2.48,-4.24 3.13,-4.19 3.79,-4.22 4.44,-4.16 5.08,-4.23
-4.81,-4.48 -4.19,-4.53 -3.56,-4.47 -2.93,-4.54 -2.30,-4.49 -1.67,-4.52 -1.03,-4.46 -0.39,-4.54 0.28,-4.48 0.94,-4.53 1.59,-4.47 2.25,-4.54 2.90,-4.49 3.56,-4.52 4.21,-4.46 4.85,-4.53
-4.62,-4.78 -4.01,-4.83 -3.38,-4.77 -2.75,-4.84 -2.12,-4.79 -1.49,-4.82 -0.85,-4.76 -0.21,-4.84 0.46,-4.78 1.11,-4.83 1.77,-4.77 2.43,-4.84 3.08,-4.79 3.74,-4.82 4.39,-4.76 5.03,-4.83
-4.87,-5.08 -4.25,-5.13 -3.62,-5.07 -2.99,-5.14 -2.36,-5.09 -1.73,-5.12 -1.09,-5.06 -0.45,-5.14 0.22,-5.08 0.88,-5.13 1.53,-5.07 2.19,-5.14 2.84,-5.09 3.50,-5.12 4.15,-5.06 4.79,-5.13 5.30,-5.08
-4.56,-5.38 -3.95,-5.43 -3.32,-5.37 -2.68,-5.44 -2.05,-5.39 -1.42,-5.42 -0.79,-5.36 -0.15,-5.44 0.52,-5.38 1.17,-5.43 1.83,-5.37 2.49,-5.44 3.14,-5.39 3.80,-5.42 4.45,-5.36 5.09,-5.43
-4.80,-5.68 -4.18,-5.73 -3.55,-5.67 -2.92,-5.74 -2.29,-5.69 -1.66,-5.72 -1.02,-5.66 -0.38,-5.74 0.29,-5.68 0.95,-5.73 1.60,-5.67 2.26,-5.74 2.91,-5.69 3.57,-5.72 4.22,-5.66 4.86,-5.73
`;

function parsePairs(text) {
  return text.trim().split(/\s+/).map(s => s.split(",").map(Number));
}
const usersLeft = parsePairs(usersLeftText);
const usersRight = parsePairs(usersRightText);

// ---------- layout ----------
const svg = d3.select("#chart");
const RED = "#ff0000", BLUE = "#0000ff", GREEN = "#00e600";
const SERIF = "Liberation Serif";

const panels = [
  {
    name: "left", coef: titleCoefs[0], titleX: 262,
    xDomain: [-5.92, 1.67], yDomain: [0.385, 7.97],
    left: 18, right: 523, top: 37, bottom: 435, box: true,
    xTicks: xTicksLeft, xLabels: xLabelsLeft, yTicks: yTicksLeft, yLabels: yLabelsLeft,
    hex: hexCentersLeft, sites: apSitesLeft, homes: homeLeft, users: usersLeft
  },
  {
    name: "right", coef: titleCoefs[1], titleX: 843,
    xDomain: [-5.05, 5.4], yDomain: [-5.9, 5.38],
    left: 597, right: 1099, top: 39, bottom: 435, box: false,
    xTicks: xTicksRight, xLabels: xLabelsRight, yTicks: yTicksRight, yLabels: yLabelsRight,
    hex: hexCentersRight, sites: apSitesRight, homes: homeRight, users: usersRight
  }
];

// path context that maps data coords through the scales
function scaledPath(voronoi, x, y) {
  const p = d3.path();
  voronoi.render({
    moveTo: (a, b) => p.moveTo(x(a), y(b)),
    lineTo: (a, b) => p.lineTo(x(a), y(b)),
    closePath: () => p.closePath()
  });
  return p.toString();
}

function drawTitle(p) {
  const t = svg.append("text")
    .attr("x", p.titleX).attr("y", 28)
    .attr("text-anchor", "middle")
    .style("font-family", SERIF)
    .attr("font-size", 27).attr("font-weight", "bold").attr("fill", "#000");
  t.append("tspan").text("\u03bb");
  t.append("tspan").attr("font-style", "italic").attr("font-size", 19).attr("dy", -10).text("h");
  t.append("tspan").attr("dy", 10).text(" = ");
  t.append("tspan").attr("font-style", "italic").text(p.coef);
  t.append("tspan").text("\u03bb");
  t.append("tspan").attr("font-style", "italic").attr("font-size", 19).attr("dy", -10).text("w");
}

function drawPanel(p) {
  const x = d3.scaleLinear().domain(p.xDomain).range([p.left, p.right]);
  const y = d3.scaleLinear().domain(p.yDomain).range([p.bottom, p.top]);
  const bounds = [p.xDomain[0], p.yDomain[0], p.xDomain[1], p.yDomain[1]];

  const clipId = "clip-" + p.name;
  svg.append("clipPath").attr("id", clipId)
    .append("rect")
    .attr("x", p.left).attr("y", p.top)
    .attr("width", p.right - p.left).attr("height", p.bottom - p.top);

  const plot = svg.append("g").attr("clip-path", `url(#${clipId})`);

  // red AP cells
  const apVor = d3.Delaunay.from(p.sites).voronoi(bounds);
  plot.append("path")
    .attr("d", scaledPath(apVor, x, y))
    .attr("fill", "none").attr("stroke", RED).attr("stroke-width", 0.9);

  // users
  plot.append("g").selectAll("rect")
    .data(p.users)
    .join("rect")
    .attr("x", d => x(d[0]) - 1.1)
    .attr("y", d => y(d[1]) - 1.1)
    .attr("width", 2.2).attr("height", 2.2)
    .attr("fill", GREEN);

  // blue macro cells
  const hexVor = d3.Delaunay.from(p.hex).voronoi(bounds);
  plot.append("path")
    .attr("d", scaledPath(hexVor, x, y))
    .attr("fill", "none").attr("stroke", BLUE).attr("stroke-width", 2.7)
    .attr("stroke-linejoin", "round");

  // macro BS squares
  const inView = p.hex.filter(d =>
    d[0] > p.xDomain[0] && d[0] < p.xDomain[1] && d[1] > p.yDomain[0] && d[1] < p.yDomain[1]);
  const sq = svg.append("g").selectAll("g").data(inView).join("g")
    .attr("transform", d => `translate(${x(d[0])},${y(d[1])})`);
  sq.append("rect").attr("x", -3.9).attr("y", -3.9).attr("width", 7.8).attr("height", 7.8)
    .attr("fill", "#fff").attr("stroke", BLUE).attr("stroke-width", 2);
  sq.append("rect").attr("x", -0.8).attr("y", -0.8).attr("width", 1.6).attr("height", 1.6)
    .attr("fill", BLUE);

  // home BS: circle + down triangle
  const hg = svg.append("g");
  hg.selectAll("circle").data(p.homes).join("circle")
    .attr("cx", d => x(d[0])).attr("cy", d => y(d[1]))
    .attr("r", 10.4)
    .attr("fill", "none").attr("stroke", RED).attr("stroke-width", 2.2);
  const tri = d3.symbol().type(d3.symbolTriangle).size(17);
  hg.selectAll("path").data(p.homes).join("path")
    .attr("d", tri)
    .attr("transform", d => `translate(${x(d[0])},${y(d[1]) + 0.5}) rotate(180)`)
    .attr("fill", "#ff8080").attr("stroke", RED).attr("stroke-width", 1.6);

  // axes
  const axB = svg.append("g").attr("transform", `translate(0,${p.bottom})`)
    .call(d3.axisBottom(x).tickValues(p.xTicks).tickFormat((d, i) => p.xLabels[i])
      .tickSize(-5).tickSizeOuter(0).tickPadding(7));
  const axL = svg.append("g").attr("transform", `translate(${p.left},0)`)
    .call(d3.axisLeft(y).tickValues(p.yTicks).tickFormat((d, i) => p.yLabels[i])
      .tickSize(-5).tickSizeOuter(0).tickPadding(5));
  [axB, axL].forEach(a => {
    a.attr("font-family", null);
    a.selectAll("text")
      .style("font-family", SERIF)
      .style("font-size", "19px")
      .attr("fill", "#000");
  });

  if (p.box) {
    axB.select(".domain").remove();
    axL.select(".domain").remove();
    svg.append("g").attr("transform", `translate(0,${p.top})`)
      .call(d3.axisTop(x).tickValues(p.xTicks).tickFormat("").tickSize(-5).tickSizeOuter(0))
      .select(".domain").remove();
    svg.append("g").attr("transform", `translate(${p.right},0)`)
      .call(d3.axisRight(y).tickValues(p.yTicks).tickFormat("").tickSize(-5).tickSizeOuter(0))
      .select(".domain").remove();
    svg.append("rect")
      .attr("x", p.left).attr("y", p.top)
      .attr("width", p.right - p.left).attr("height", p.bottom - p.top)
      .attr("fill", "none").attr("stroke", "#000").attr("stroke-width", 1.2);
  } else {
    axB.select(".domain").attr("stroke", "#333").attr("stroke-width", 1.2);
    axL.select(".domain").attr("stroke", "#333").attr("stroke-width", 1.2);
  }

  drawTitle(p);
}

panels.forEach(drawPanel);
</script>
</body>
</html>
